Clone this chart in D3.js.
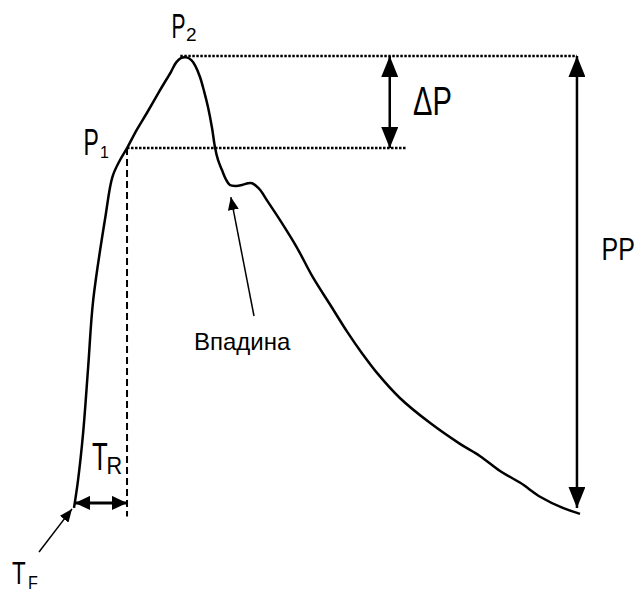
<!DOCTYPE html>
<html>
<head>
<meta charset="utf-8">
<script src="https://cdn.jsdelivr.net/npm/d3@7"></script>
<style>
  body { margin: 0; background: #fff; }
  svg { display: block; }
  text { font-family: "Liberation Sans", Arial, sans-serif; fill: #000; }
</style>
</head>
<body>
<svg width="637" height="593"></svg>
<script>
// pressure wave (time in arbitrary units, pressure in % of P2)
const time = [0, 4, 9, 14, 19, 31, 38, 45.5, 52.4, 62, 72, 85, 96, 101, 106, 111, 116, 120, 124.5, 128.5,
  132.4, 136.4, 139.3, 142.3, 146.2, 150, 154, 160, 166, 172, 176, 180, 184, 191.7, 203.6, 220, 236, 253,
  270, 285.6, 299.4, 322, 352, 381, 401, 421, 441, 461, 483, 500];
const pressure = [0.9, 7, 17.3, 31.8, 46.5, 64.7, 73.5, 77.2, 79.8, 83.8, 87.5, 92.5, 96.6, 98.6, 99.6, 99.7,
  99.1, 97.8, 95.4, 92.3, 88.8, 84.2, 80, 77.2, 75, 73, 71.7, 71.5, 71.7, 72.1, 72.1, 71.5, 70.6, 68, 64,
  58.1, 51.5, 45.5, 39.5, 34.5, 30.5, 25, 19.5, 15, 12.3, 9, 6.4, 3.3, 0.9, -0.4];

// key points of the wave
const foot = { t: 0, p: 0.9 };
const p1 = { t: 52.4, p: 79.8 };
const p2 = { t: 108, p: 100 };
const trough = { t: 154, p: 71.7 };
const dpArrowT = 312;   // where the ΔP arrow stands
const ppArrowT = 497;   // where the PP arrow stands
const p1LineEnd = 328;

const svg = d3.select("svg");
const x = d3.scaleLinear().domain([0, 500]).range([74, 580]);
const y = d3.scaleLinear().domain([0, 100]).range([512, 56]);

const defs = svg.append("defs");
function head(id, len, half) {
  defs.append("marker")
    .attr("id", id)
    .attr("markerUnits", "userSpaceOnUse")
    .attr("viewBox", `0 ${-half} ${len} ${half * 2}`)
    .attr("refX", len).attr("refY", 0)
    .attr("markerWidth", len).attr("markerHeight", half * 2)
    .attr("orient", "auto-start-reverse")
    .append("path")
    .attr("d", `M0,${-half}L${len},0L0,${half}Z`)
    .attr("fill", "#000");
}
head("big", 21, 8.5);
head("mid", 15, 7);
head("small", 13, 5.5);

// dotted level lines
svg.append("line")
  .attr("x1", x(p2.t) - 3).attr("x2", x(ppArrowT))
  .attr("y1", y(p2.p)).attr("y2", y(p2.p))
  .attr("stroke", "#000").attr("stroke-width", 2.5).attr("stroke-dasharray", "2.5,1.5");
svg.append("line")
  .attr("x1", x(p1.t)).attr("x2", x(p1LineEnd))
  .attr("y1", y(p1.p)).attr("y2", y(p1.p))
  .attr("stroke", "#000").attr("stroke-width", 2.5).attr("stroke-dasharray", "2.5,1.5");

// dashed drop from P1
svg.append("line")
  .attr("x1", x(p1.t)).attr("x2", x(p1.t))
  .attr("y1", y(p1.p)).attr("y2", y(-1))
  .attr("stroke", "#000").attr("stroke-width", 2).attr("stroke-dasharray", "7,4");

// the wave
svg.append("path")
  .datum(time.map((t, i) => [t, pressure[i]]))
  .attr("d", d3.line().x(d => x(d[0])).y(d => y(d[1])).curve(d3.curveCatmullRom))
  .attr("fill", "none").attr("stroke", "#000").attr("stroke-width", 2.5)
  .attr("stroke-linejoin", "round");

// ΔP arrow
svg.append("line")
  .attr("x1", x(dpArrowT)).attr("x2", x(dpArrowT))
  .attr("y1", y(p2.p)).attr("y2", y(p1.p))
  .attr("stroke", "#000").attr("stroke-width", 2.5)
  .attr("marker-start", "url(#big)").attr("marker-end", "url(#big)");

// PP arrow
svg.append("line")
  .attr("x1", x(ppArrowT)).attr("x2", x(ppArrowT))
  .attr("y1", y(p2.p)).attr("y2", y(foot.p))
  .attr("stroke", "#000").attr("stroke-width", 2.5)
  .attr("marker-start", "url(#big)").attr("marker-end", "url(#big)");

// TR arrow
svg.append("line")
  .attr("x1", x(foot.t) + 1).attr("x2", x(p1.t))
  .attr("y1", y(foot.p) - 5).attr("y2", y(foot.p) - 5)
  .attr("stroke", "#000").attr("stroke-width", 3)
  .attr("marker-start", "url(#mid)").attr("marker-end", "url(#mid)");

// TF pointer
svg.append("line")
  .attr("x1", 39).attr("y1", 552)
  .attr("x2", x(foot.t) - 2).attr("y2", y(foot.p) + 1)
  .attr("stroke", "#000").attr("stroke-width", 1.5)
  .attr("marker-end", "url(#small)");

// trough pointer
svg.append("line")
  .attr("x1", 254).attr("y1", 316)
  .attr("x2", x(trough.t) + 1).attr("y2", y(trough.p) + 12)
  .attr("stroke", "#000").attr("stroke-width", 1.5)
  .attr("marker-end", "url(#small)");

// labels
function label(x0, y0, str, size, sx) {
  svg.append("text")
    .attr("transform", `translate(${x0},${y0}) scale(${sx},1)`)
    .attr("font-size", size)
    .text(str);
}
label(171.5, 38, "P", 35, 0.6);
label(186, 41, "2", 19, 1.0);
label(83.5, 155, "P", 37, 0.62);
label(100, 158, "1", 16, 1.0);
label(413, 115, "ΔP", 41, 0.71);
label(601.5, 260, "PP", 32, 0.78);
label(92, 470, "T", 39, 0.66);
label(106.5, 474, "R", 24, 0.9);
label(12, 584, "T", 32, 0.7);
label(28, 589, "F", 19, 0.85);
label(194, 350, "Впадина", 24, 1);
</script>
</body>
</html>
